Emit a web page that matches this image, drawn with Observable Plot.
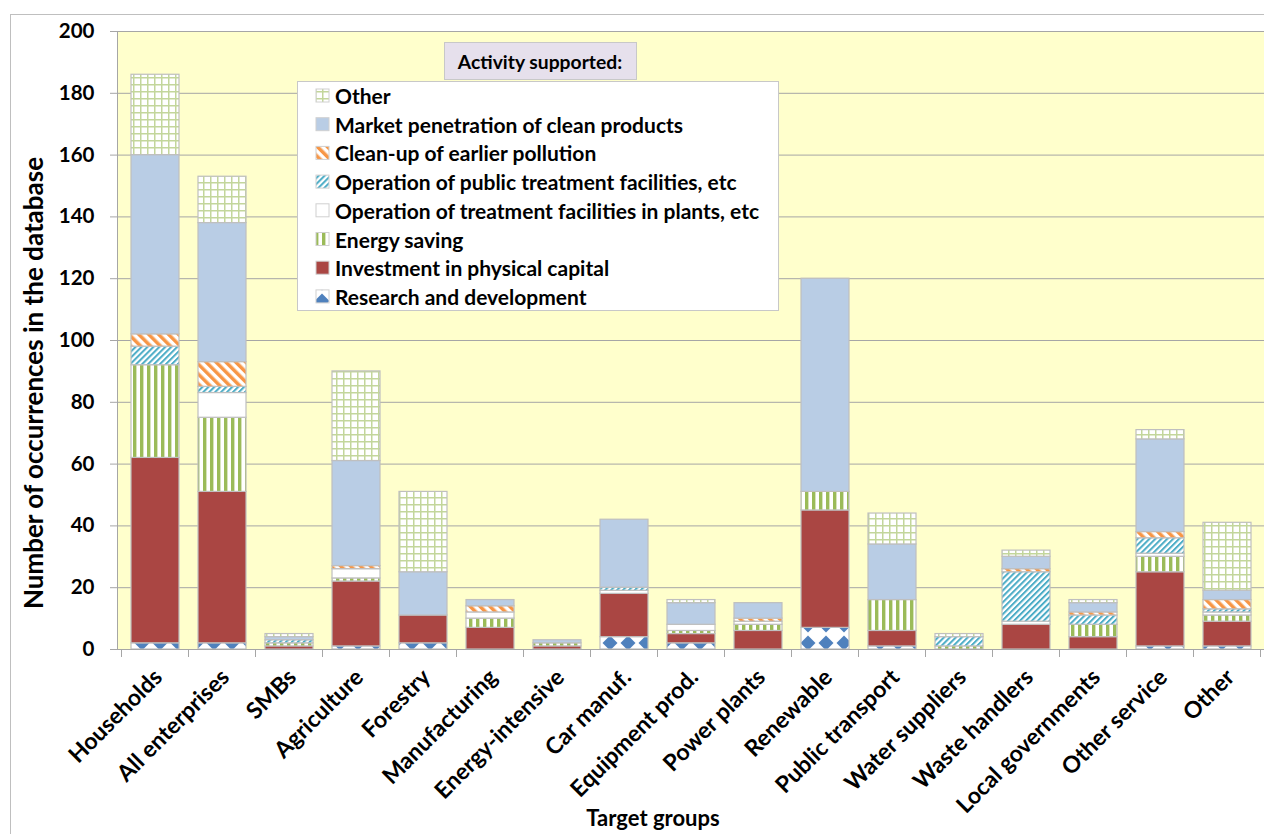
<!DOCTYPE html>
<html><head><meta charset="utf-8">
<script src="https://cdn.jsdelivr.net/npm/d3@7"></script>
<script src="https://cdn.jsdelivr.net/npm/@observablehq/plot@0.6"></script>
<style>
html,body{margin:0;padding:0;background:#fff;overflow:hidden}
#chart svg{display:block}
</style></head><body><div id="chart"></div>
<script>
// ---- data ----
const categories = ["Households","All enterprises","SMBs","Agriculture","Forestry","Manufacturing","Energy-intensive","Car manuf.","Equipment prod.","Power plants","Renewable","Public transport","Water suppliers","Waste handlers","Local governments","Other service","Other"];
const seriesNames = ["Research and development","Investment in physical capital","Energy saving","Operation of treatment facilities in plants, etc","Operation of public treatment facilities, etc","Clean-up of earlier pollution","Market penetration of clean products","Other"];
const researchDev   = [2, 2, 0, 1, 2, 0, 0, 4, 2, 0, 7, 1, 0, 0, 0, 1, 1];
const investment    = [60, 49, 1, 21, 9, 7, 1, 14, 3, 6, 38, 5, 0, 8, 4, 24, 8];
const energySaving  = [30, 24, 1, 1, 0, 3, 1, 0, 1, 2, 6, 10, 1, 0, 4, 5, 2];
const opPlants      = [0, 8, 0, 3, 0, 2, 0, 1, 2, 1, 0, 0, 0, 1, 0, 1, 1];
const opPublic      = [6, 2, 1, 0, 0, 0, 0, 1, 0, 0, 0, 0, 3, 16, 3, 5, 1];
const cleanUp       = [4, 8, 0, 1, 0, 2, 0, 0, 0, 1, 0, 0, 0, 1, 1, 2, 3];
const marketPen     = [58, 45, 1, 34, 14, 2, 1, 22, 7, 5, 69, 18, 0, 4, 3, 30, 3];
const otherAct      = [26, 15, 1, 29, 26, 0, 0, 0, 1, 0, 0, 10, 1, 2, 1, 3, 22];
const yTicks = [0, 20, 40, 60, 80, 100, 120, 140, 160, 180, 200];
const seriesValues = [researchDev, investment, energySaving, opPlants, opPublic, cleanUp, marketPen, otherAct];
const patternIds = ["p-rd","p-inv","p-energy","p-plants","p-public","p-clean","p-market","p-other"];
const patternUrls = patternIds.map(id => `url(#${id})`);

const rows = [];
seriesValues.forEach((vals, si) => vals.forEach((v, ci) => {
  if (v > 0) rows.push({category: categories[ci], series: seriesNames[si], value: v});
}));

const FONT = "Lato, 'Open Sans', sans-serif";
const GRID = "#a6a6a6";

const chart = Plot.plot({
  width: 1264, height: 834,
  marginLeft: 117, marginRight: 0, marginTop: 31, marginBottom: 185,
  style: {fontFamily: FONT, background: "transparent", color: "black"},
  x: {domain: categories, paddingInner: 0.29, paddingOuter: 0.145, axis: null},
  y: {domain: [0, 200], axis: null},
  color: {domain: seriesNames, range: patternUrls},
  marks: [
    Plot.frame({fill: "#ffffcc", stroke: "none"}),
    Plot.gridY(yTicks, {stroke: GRID, strokeOpacity: 1, strokeWidth: 1}),
    Plot.barY(rows, Plot.stackY({x: "category", y: "value", z: "series", fill: "series", order: null, stroke: "#bfbfbf", strokeWidth: 1.2})),
    Plot.ruleY([0], {stroke: GRID}),
    Plot.axisY(yTicks, {label: null, tickSize: 7, tickPadding: 16, fontSize: 20.5, fontWeight: "bold", stroke: GRID, fill: "black"}),
    Plot.text(categories, {x: d => d, text: d => d, frameAnchor: "bottom", rotate: -45, textAnchor: "end", lineAnchor: "middle", dx: 3, dy: 24, fontSize: 23, fontWeight: "bold", fill: "black"})
  ]
});
document.getElementById("chart").appendChild(chart);

const svg = d3.select(chart);
svg.insert("defs", ":first-child").html(`
  <pattern id="p-rd" patternUnits="userSpaceOnUse" width="18" height="18" patternTransform="translate(7,4)">
    <rect width="18" height="18" fill="white"/>
    <polygon points="9,1.5 16.5,9 9,16.5 1.5,9" fill="#4f81bd"/>
  </pattern>
  <pattern id="p-inv" patternUnits="userSpaceOnUse" width="10" height="10">
    <rect width="10" height="10" fill="#aa4643"/>
  </pattern>
  <pattern id="p-energy" patternUnits="userSpaceOnUse" width="7" height="7">
    <rect width="7" height="7" fill="white"/>
    <rect x="0" width="3.4" height="7" fill="#9bbb59"/>
  </pattern>
  <pattern id="p-plants" patternUnits="userSpaceOnUse" width="10" height="10">
    <rect width="10" height="10" fill="white"/>
  </pattern>
  <pattern id="p-public" patternUnits="userSpaceOnUse" width="4.2" height="4.2" patternTransform="rotate(45)">
    <rect width="4.2" height="4.2" fill="white"/>
    <rect width="2" height="4.2" fill="#4bacc6"/>
  </pattern>
  <pattern id="p-clean" patternUnits="userSpaceOnUse" width="7" height="7" patternTransform="rotate(-45)">
    <rect width="7" height="7" fill="white"/>
    <rect width="3.5" height="7" fill="#f79646"/>
  </pattern>
  <pattern id="p-market" patternUnits="userSpaceOnUse" width="10" height="10">
    <rect width="10" height="10" fill="#b9cde5"/>
  </pattern>
  <pattern id="p-other" patternUnits="userSpaceOnUse" width="7" height="7">
    <rect width="7" height="7" fill="white"/>
    <path d="M0 0.75H7M0.75 0V7" stroke="#c3d69b" stroke-width="1.5"/>
  </pattern>`);

// outer chart-area border
svg.append("rect").attr("x", 10.5).attr("y", 14.5).attr("width", 1400).attr("height", 900)
  .attr("fill", "none").attr("stroke", "#bfbfbf");

// y axis line and category boundary ticks
const xs = chart.scale("x");
const ys = chart.scale("y");
const y0 = ys.apply(0), yTop = ys.apply(200);
svg.append("line").attr("x1", 117.5).attr("x2", 117.5).attr("y1", yTop).attr("y2", y0).attr("stroke", GRID);
const gap = (xs.step - xs.bandwidth) / 2;
const bounds = categories.map(c => xs.apply(c) - gap).concat([xs.apply(categories[categories.length - 1]) + xs.bandwidth + gap]);
svg.append("g").selectAll("line").data(bounds).join("line")
  .attr("x1", d => d).attr("x2", d => d).attr("y1", y0).attr("y2", y0 + 8).attr("stroke", GRID);

// axis titles
svg.append("text").attr("transform", "translate(33,383) rotate(-90)")
  .attr("text-anchor", "middle").attr("dominant-baseline", "central")
  .attr("font-family", FONT).attr("font-weight", "bold").attr("font-size", 26)
  .text("Number of occurrences in the database");
svg.append("text").attr("x", 653).attr("y", 826).attr("text-anchor", "middle")
  .attr("font-family", FONT).attr("font-weight", "bold").attr("font-size", 22)
  .text("Target groups");

// legend
const lg = svg.append("g").attr("font-family", FONT).attr("font-weight", "bold").attr("fill", "black");
lg.append("rect").attr("x", 297.5).attr("y", 81.5).attr("width", 481).attr("height", 229)
  .attr("fill", "white").attr("stroke", "#c8c8c8");
lg.append("rect").attr("x", 444.5).attr("y", 42.5).attr("width", 192).attr("height", 37)
  .attr("fill", "#e6e0ec").attr("stroke", "#c8c8c8");
lg.append("text").attr("x", 540).attr("y", 61).attr("text-anchor", "middle").attr("dominant-baseline", "central")
  .attr("font-size", 19.3).text("Activity supported:");
const legendOrder = seriesNames.map((n, i) => i).reverse();
legendOrder.forEach((si, k) => {
  const cy = 95.5 + k * 28.7;
  lg.append("rect").attr("x", 316).attr("y", cy - 6.5).attr("width", 13).attr("height", 13)
    .attr("fill", patternUrls[si]).attr("stroke", "#d0d0d0");
  lg.append("text").attr("x", 335).attr("y", cy).attr("text-anchor", "start").attr("dominant-baseline", "central")
    .attr("font-size", 21).text(seriesNames[si]);
});
</script></body></html>
